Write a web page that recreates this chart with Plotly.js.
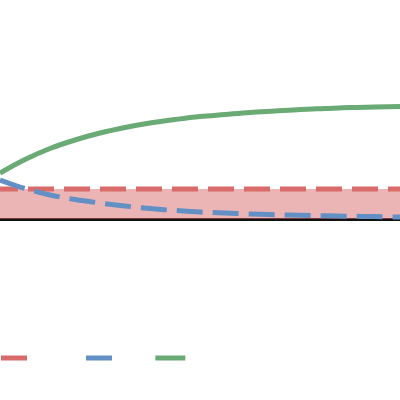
<!DOCTYPE html>
<html>
<head>
<meta charset="utf-8">
<script src="https://cdn.plot.ly/plotly-3.0.1.min.js"></script>
<style>html,body{margin:0;padding:0;background:#fff;}#chart{width:400px;height:400px;}</style>
</head>
<body>
<div id="chart"></div>
<script>
// Data
const xVals = [0, 25, 50, 75, 100, 125, 150, 175, 200, 225, 250, 275, 300, 325, 350, 375, 400];
const bandX = [-8, 400];
const bandLevel = [0.30, 0.30];
const blueVals = [0.39, 0.305, 0.24, 0.195, 0.16, 0.13, 0.105, 0.085, 0.07, 0.06, 0.05, 0.043, 0.037, 0.032, 0.028, 0.024, 0.02];
const greenVals = [0.46, 0.595, 0.705, 0.79, 0.86, 0.915, 0.96, 0.995, 1.025, 1.045, 1.065, 1.08, 1.095, 1.105, 1.115, 1.12, 1.125];
const seriesNames = ['\u00a0'.repeat(12), '\u00a0'.repeat(7) + '\u200a', '\u00a0'];

const red = '#D96B6B', blue = '#628FC4', green = '#6AAA75';
const dash = '26px,10px';

const traces = [
  {x: bandX, y: bandLevel, type: 'scatter', mode: 'none', fill: 'tozeroy',
   fillcolor: 'rgba(217,107,107,0.5)', showlegend: false, hoverinfo: 'skip'},
  {x: bandX, y: bandLevel, type: 'scatter', mode: 'lines', name: seriesNames[0],
   line: {color: red, width: 5, dash: dash}},
  {x: xVals, y: blueVals, type: 'scatter', mode: 'lines', name: seriesNames[1],
   line: {color: blue, width: 5, dash: dash, shape: 'spline', smoothing: 1}},
  {x: xVals, y: greenVals, type: 'scatter', mode: 'lines', name: seriesNames[2],
   line: {color: green, width: 5, shape: 'spline', smoothing: 1}}
];

const layout = {
  width: 400, height: 400,
  margin: {l: 0, r: 0, t: 0, b: 80, autoexpand: false},
  paper_bgcolor: '#fff', plot_bgcolor: '#fff',
  xaxis: {range: [0, 400], showgrid: false, zeroline: false, showticklabels: false, ticks: '', showline: false},
  yaxis: {range: [-1.01, 2.19], showgrid: false, zeroline: true, zerolinecolor: '#111', zerolinewidth: 3,
          showticklabels: false, ticks: '', showline: false},
  showlegend: true,
  legend: {orientation: 'h', x: -0.01, xanchor: 'left', y: -0.119, yanchor: 'middle',
           font: {size: 12, family: 'Liberation Sans'}, bgcolor: 'rgba(0,0,0,0)'}
};

Plotly.newPlot('chart', traces, layout, {staticPlot: true, displayModeBar: false});
</script>
</body>
</html>
